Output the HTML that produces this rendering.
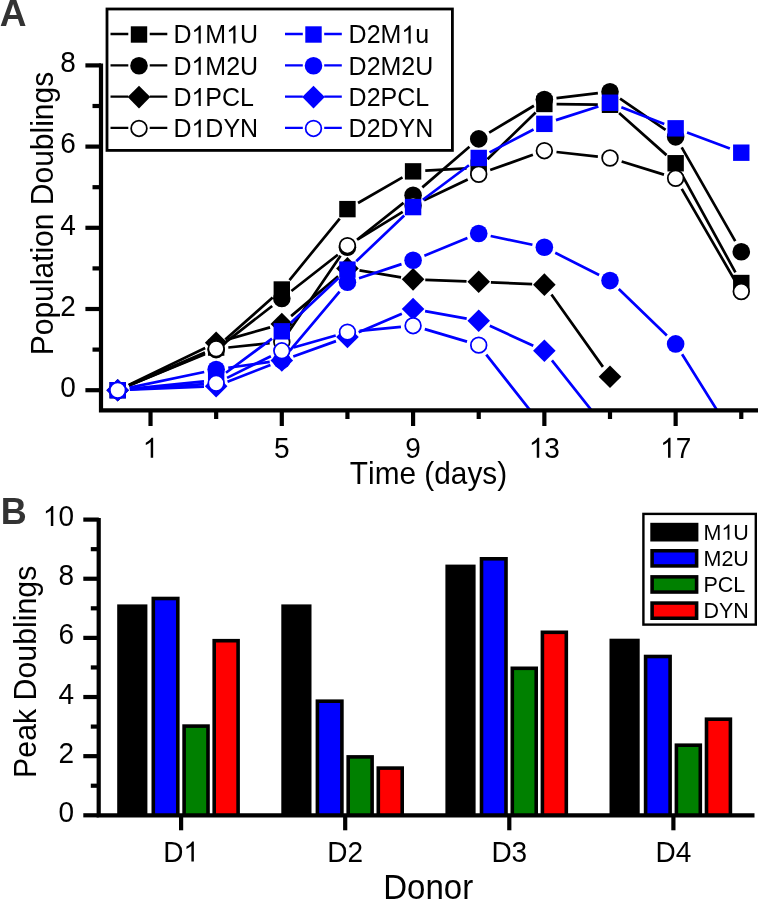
<!DOCTYPE html>
<html><head><meta charset="utf-8"><style>html,body{margin:0;padding:0;background:#fff;width:758px;height:900px;overflow:hidden}svg{will-change:transform}text{font-kerning:none}</style></head>
<body>
<svg width="758" height="900" viewBox="0 0 758 900" style="display:block">
<rect width="758" height="900" fill="#fff"/>
<defs><clipPath id="ca"><rect x="101" y="0" width="657" height="410.2"/></clipPath></defs>
<g clip-path="url(#ca)">
<path d="M128.90 385.35L204.96 352.42M225.30 339.49L272.66 297.59M289.52 280.06L339.72 218.57M358.02 203.04L402.50 177.45M425.26 170.69L466.54 168.39M487.47 159.21L535.61 112.47M556.56 104.12L597.80 104.63M619.11 112.90L666.53 155.13M681.50 173.94L735.42 272.32" stroke="#000" stroke-width="2.7" fill="none"/>
<rect x="109.50" y="382.00" width="16.40" height="16.40" fill="#000"/>
<rect x="207.96" y="339.37" width="16.40" height="16.40" fill="#000"/>
<rect x="273.60" y="281.31" width="16.40" height="16.40" fill="#000"/>
<rect x="339.24" y="200.92" width="16.40" height="16.40" fill="#000"/>
<rect x="404.88" y="163.17" width="16.40" height="16.40" fill="#000"/>
<rect x="470.52" y="159.51" width="16.40" height="16.40" fill="#000"/>
<rect x="536.16" y="95.77" width="16.40" height="16.40" fill="#000"/>
<rect x="601.80" y="96.58" width="16.40" height="16.40" fill="#000"/>
<rect x="667.44" y="155.05" width="16.40" height="16.40" fill="#000"/>
<rect x="733.08" y="274.82" width="16.40" height="16.40" fill="#000"/>
<path d="M128.98 385.55L204.88 354.25M225.78 342.10L272.18 305.94M291.42 290.94L337.82 254.79M357.01 239.72L403.51 202.89M422.33 187.37L469.47 146.84M489.18 132.61L533.90 105.78M556.48 98.08L597.88 93.21M620.06 98.70L665.58 129.95M681.69 147.45L735.23 241.16" stroke="#000" stroke-width="2.7" fill="none"/>
<circle cx="117.70" cy="390.20" r="8.8" fill="#000"/>
<circle cx="216.16" cy="349.60" r="8.8" fill="#000"/>
<circle cx="281.80" cy="298.44" r="8.8" fill="#000"/>
<circle cx="347.44" cy="247.29" r="8.8" fill="#000"/>
<circle cx="413.08" cy="195.32" r="8.8" fill="#000"/>
<circle cx="478.72" cy="138.89" r="8.8" fill="#000"/>
<circle cx="544.36" cy="99.50" r="8.8" fill="#000"/>
<circle cx="610.00" cy="91.79" r="8.8" fill="#000"/>
<circle cx="675.64" cy="136.86" r="8.8" fill="#000"/>
<circle cx="741.28" cy="251.75" r="8.8" fill="#000"/>
<path d="M128.69 384.90L205.17 348.00M227.89 339.36L270.07 327.36M291.11 316.13L338.13 276.29M359.47 270.41L401.05 277.35M425.27 279.81L466.53 281.35M490.91 282.33L532.17 284.11M551.44 294.58L602.92 366.86" stroke="#000" stroke-width="2.7" fill="none"/>
<path d="M117.70 378.90L129.00 390.20L117.70 401.50L106.40 390.20Z" fill="#000"/>
<path d="M216.16 331.40L227.46 342.70L216.16 354.00L204.86 342.70Z" fill="#000"/>
<path d="M281.80 312.72L293.10 324.02L281.80 335.32L270.50 324.02Z" fill="#000"/>
<path d="M347.44 257.10L358.74 268.40L347.44 279.70L336.14 268.40Z" fill="#000"/>
<path d="M413.08 268.06L424.38 279.36L413.08 290.66L401.78 279.36Z" fill="#000"/>
<path d="M478.72 270.50L490.02 281.80L478.72 293.10L467.42 281.80Z" fill="#000"/>
<path d="M544.36 273.34L555.66 284.64L544.36 295.94L533.06 284.64Z" fill="#000"/>
<path d="M610.00 365.50L621.30 376.80L610.00 388.10L598.70 376.80Z" fill="#000"/>
<path d="M128.95 385.47L204.91 353.52M228.29 347.51L269.67 343.16M288.68 331.81L340.56 255.74M357.84 239.29L402.68 211.84M424.09 200.22L467.71 179.45M490.20 170.09L532.88 154.78M556.49 152.01L597.87 156.62M621.66 161.57L663.98 174.66M681.76 188.82L735.16 280.99" stroke="#000" stroke-width="2.7" fill="none"/>
<circle cx="117.70" cy="390.20" r="7.85" fill="#fff" stroke="#000" stroke-width="1.75"/>
<circle cx="216.16" cy="348.79" r="7.85" fill="#fff" stroke="#000" stroke-width="1.75"/>
<circle cx="281.80" cy="341.89" r="7.85" fill="#fff" stroke="#000" stroke-width="1.75"/>
<circle cx="347.44" cy="245.66" r="7.85" fill="#fff" stroke="#000" stroke-width="1.75"/>
<circle cx="413.08" cy="205.47" r="7.85" fill="#fff" stroke="#000" stroke-width="1.75"/>
<circle cx="478.72" cy="174.21" r="7.85" fill="#fff" stroke="#000" stroke-width="1.75"/>
<circle cx="544.36" cy="150.66" r="7.85" fill="#fff" stroke="#000" stroke-width="1.75"/>
<circle cx="610.00" cy="157.97" r="7.85" fill="#fff" stroke="#000" stroke-width="1.75"/>
<circle cx="675.64" cy="178.27" r="7.85" fill="#fff" stroke="#000" stroke-width="1.75"/>
<circle cx="741.28" cy="291.54" r="7.85" fill="#fff" stroke="#000" stroke-width="1.75"/>
<path d="M129.84 388.95L204.02 381.30M225.96 372.78L272.00 338.60M290.69 322.97L338.55 277.97M356.27 261.20L404.25 215.51M422.85 199.78L468.95 165.28M489.55 152.34L533.53 129.49M555.97 120.13L598.39 106.49M621.37 107.18L664.27 123.90M687.08 132.57L729.84 148.45" stroke="#00f" stroke-width="2.7" fill="none"/>
<rect x="109.50" y="382.00" width="16.40" height="16.40" fill="#00f"/>
<rect x="207.96" y="371.85" width="16.40" height="16.40" fill="#00f"/>
<rect x="273.60" y="323.13" width="16.40" height="16.40" fill="#00f"/>
<rect x="339.24" y="261.42" width="16.40" height="16.40" fill="#00f"/>
<rect x="404.88" y="198.89" width="16.40" height="16.40" fill="#00f"/>
<rect x="470.52" y="149.77" width="16.40" height="16.40" fill="#00f"/>
<rect x="536.16" y="115.66" width="16.40" height="16.40" fill="#00f"/>
<rect x="601.80" y="94.55" width="16.40" height="16.40" fill="#00f"/>
<rect x="667.44" y="120.13" width="16.40" height="16.40" fill="#00f"/>
<rect x="733.08" y="144.49" width="16.40" height="16.40" fill="#00f"/>
<path d="M129.64 387.69L204.22 372.00M228.24 367.78L269.72 361.87M289.66 350.82L339.58 291.54M359.01 278.34L401.51 264.14M424.38 255.67L467.42 238.09M490.66 235.99L532.42 244.78M555.24 252.81L599.12 275.06M618.78 289.05L666.86 335.44M682.10 354.27L734.82 438.72" stroke="#00f" stroke-width="2.7" fill="none"/>
<circle cx="117.70" cy="390.20" r="8.8" fill="#00f"/>
<circle cx="216.16" cy="369.49" r="8.8" fill="#00f"/>
<circle cx="281.80" cy="360.16" r="8.8" fill="#00f"/>
<circle cx="347.44" cy="282.20" r="8.8" fill="#00f"/>
<circle cx="413.08" cy="260.28" r="8.8" fill="#00f"/>
<circle cx="478.72" cy="233.48" r="8.8" fill="#00f"/>
<circle cx="544.36" cy="247.29" r="8.8" fill="#00f"/>
<circle cx="610.00" cy="280.58" r="8.8" fill="#00f"/>
<circle cx="675.64" cy="343.92" r="8.8" fill="#00f"/>
<circle cx="741.28" cy="449.07" r="8.8" fill="#00f"/>
<path d="M129.89 389.70L203.97 386.64M227.53 381.71L270.43 364.99M293.28 356.44L335.96 341.13M358.66 332.23L401.86 313.79M425.09 311.15L466.71 318.62M489.81 325.85L533.27 345.74M551.94 360.38L602.42 424.08" stroke="#00f" stroke-width="2.7" fill="none"/>
<path d="M117.70 378.90L129.00 390.20L117.70 401.50L106.40 390.20Z" fill="#00f"/>
<path d="M216.16 374.84L227.46 386.14L216.16 397.44L204.86 386.14Z" fill="#00f"/>
<path d="M281.80 349.26L293.10 360.56L281.80 371.86L270.50 360.56Z" fill="#00f"/>
<path d="M347.44 325.71L358.74 337.01L347.44 348.31L336.14 337.01Z" fill="#00f"/>
<path d="M413.08 297.70L424.38 309.00L413.08 320.30L401.78 309.00Z" fill="#00f"/>
<path d="M478.72 309.47L490.02 320.77L478.72 332.07L467.42 320.77Z" fill="#00f"/>
<path d="M544.36 339.52L555.66 350.82L544.36 362.12L533.06 350.82Z" fill="#00f"/>
<path d="M610.00 422.34L621.30 433.64L610.00 444.94L598.70 433.64Z" fill="#00f"/>
<path d="M129.87 389.35L203.99 384.15M227.09 377.89L270.87 356.23M293.53 347.48L335.71 335.48M359.58 330.94L400.94 326.85M424.78 329.12L467.02 341.66M486.27 354.71L536.81 418.78" stroke="#00f" stroke-width="2.7" fill="none"/>
<circle cx="117.70" cy="390.20" r="7.85" fill="#fff" stroke="#00f" stroke-width="1.75"/>
<circle cx="216.16" cy="383.30" r="7.85" fill="#fff" stroke="#00f" stroke-width="1.75"/>
<circle cx="281.80" cy="350.82" r="7.85" fill="#fff" stroke="#00f" stroke-width="1.75"/>
<circle cx="347.44" cy="332.14" r="7.85" fill="#fff" stroke="#00f" stroke-width="1.75"/>
<circle cx="413.08" cy="325.65" r="7.85" fill="#fff" stroke="#00f" stroke-width="1.75"/>
<circle cx="478.72" cy="345.13" r="7.85" fill="#fff" stroke="#00f" stroke-width="1.75"/>
<circle cx="544.36" cy="428.36" r="7.85" fill="#fff" stroke="#00f" stroke-width="1.75"/>
</g>
<g stroke="#000" stroke-width="4.2" fill="none">
<path d="M101 63.6V412.3M98.9 410.3H758"/>
<path d="M85.4 390.20H101"/>
<path d="M92.5 349.60H101"/>
<path d="M85.4 309.00H101"/>
<path d="M92.5 268.40H101"/>
<path d="M85.4 227.80H101"/>
<path d="M92.5 187.20H101"/>
<path d="M85.4 146.60H101"/>
<path d="M92.5 106.00H101"/>
<path d="M85.4 65.40H101"/>
<path d="M150.52 410.2V426"/>
<path d="M216.16 410.2V419"/>
<path d="M281.80 410.2V426"/>
<path d="M347.44 410.2V419"/>
<path d="M413.08 410.2V426"/>
<path d="M478.72 410.2V419"/>
<path d="M544.36 410.2V426"/>
<path d="M610.00 410.2V419"/>
<path d="M675.64 410.2V426"/>
<path d="M741.28 410.2V419"/>
</g>
<g font-family="Liberation Sans" font-size="28" fill="#000">
<g transform="translate(75.80 396.90)"><text x="-15.57" y="0" font-size="28" transform="scale(1 1.04)">0</text></g>
<g transform="translate(75.80 315.70)"><text x="-15.57" y="0" font-size="28" transform="scale(1 1.04)">2</text></g>
<g transform="translate(75.80 234.50)"><text x="-15.57" y="0" font-size="28" transform="scale(1 1.04)">4</text></g>
<g transform="translate(75.80 153.30)"><text x="-15.57" y="0" font-size="28" transform="scale(1 1.04)">6</text></g>
<g transform="translate(75.80 72.10)"><text x="-15.57" y="0" font-size="28" transform="scale(1 1.04)">8</text></g>
<g transform="translate(150.52 457.80)"><text x="-7.79" y="0" font-size="28" transform="scale(1 1.04)"> </text><path d="M763 0L583 0L583 1147Q518 1085 412 1023Q306 961 223 930L223 1104Q372 1174 484 1276Q596 1378 642 1466L763 1466Z" transform="translate(-7.79 0) scale(0.01367 -0.01367)"/></g>
<g transform="translate(281.80 457.80)"><text x="-7.79" y="0" font-size="28" transform="scale(1 1.04)">5</text></g>
<g transform="translate(413.08 457.80)"><text x="-7.79" y="0" font-size="28" transform="scale(1 1.04)">9</text></g>
<g transform="translate(544.36 457.80)"><text x="-15.57" y="0" font-size="28" transform="scale(1 1.04)"> 3</text><path d="M763 0L583 0L583 1147Q518 1085 412 1023Q306 961 223 930L223 1104Q372 1174 484 1276Q596 1378 642 1466L763 1466Z" transform="translate(-15.57 0) scale(0.01367 -0.01367)"/></g>
<g transform="translate(675.64 457.80)"><text x="-15.57" y="0" font-size="28" transform="scale(1 1.04)"> 7</text><path d="M763 0L583 0L583 1147Q518 1085 412 1023Q306 961 223 930L223 1104Q372 1174 484 1276Q596 1378 642 1466L763 1466Z" transform="translate(-15.57 0) scale(0.01367 -0.01367)"/></g>
</g>
<g transform="translate(428.50 484.20)"><text x="-78.65" y="0" font-size="29.8" font-family="Liberation Sans" transform="scale(1 1.04)">Time (days)</text></g>
<g transform="translate(52.70 213.50) rotate(-90)"><text x="-141.77" y="0" font-size="30" font-family="Liberation Sans" transform="scale(1 1.04)">Population Doublings</text></g>
<rect x="107" y="9" width="345.4" height="141.4" fill="#fff" stroke="#000" stroke-width="2.8"/>
<path d="M110.50 34.0H128.30M149.70 34.0H167.30" stroke="#000" stroke-width="2.3" fill="none"/>
<rect x="130.80" y="26.30" width="16.40" height="16.40" fill="#000"/>
<g transform="translate(173.40 43.40)"><text x="0.00" y="0" font-size="25" font-family="Liberation Sans" transform="scale(1 1.04)">D M U</text><path d="M763 0L583 0L583 1147Q518 1085 412 1023Q306 961 223 930L223 1104Q372 1174 484 1276Q596 1378 642 1466L763 1466Z" transform="translate(18.05 0) scale(0.01221 -0.01221)"/><path d="M763 0L583 0L583 1147Q518 1085 412 1023Q306 961 223 930L223 1104Q372 1174 484 1276Q596 1378 642 1466L763 1466Z" transform="translate(52.78 0) scale(0.01221 -0.01221)"/></g>
<path d="M110.50 65.3H128.30M149.70 65.3H167.30" stroke="#000" stroke-width="2.3" fill="none"/>
<circle cx="139.00" cy="65.80" r="8.8" fill="#000"/>
<g transform="translate(173.40 74.70)"><text x="0.00" y="0" font-size="25" font-family="Liberation Sans" transform="scale(1 1.04)">D M2U</text><path d="M763 0L583 0L583 1147Q518 1085 412 1023Q306 961 223 930L223 1104Q372 1174 484 1276Q596 1378 642 1466L763 1466Z" transform="translate(18.05 0) scale(0.01221 -0.01221)"/></g>
<path d="M110.50 96.6H128.30M149.70 96.6H167.30" stroke="#000" stroke-width="2.3" fill="none"/>
<path d="M139.00 85.80L150.30 97.10L139.00 108.40L127.70 97.10Z" fill="#000"/>
<g transform="translate(173.40 106.00)"><text x="0.00" y="0" font-size="25" font-family="Liberation Sans" transform="scale(1 1.04)">D PCL</text><path d="M763 0L583 0L583 1147Q518 1085 412 1023Q306 961 223 930L223 1104Q372 1174 484 1276Q596 1378 642 1466L763 1466Z" transform="translate(18.05 0) scale(0.01221 -0.01221)"/></g>
<path d="M110.50 127.9H128.30M149.70 127.9H167.30" stroke="#000" stroke-width="2.3" fill="none"/>
<circle cx="139.00" cy="128.40" r="7.85" fill="#fff" stroke="#000" stroke-width="1.75"/>
<g transform="translate(173.40 137.30)"><text x="0.00" y="0" font-size="25" font-family="Liberation Sans" transform="scale(1 1.04)">D DYN</text><path d="M763 0L583 0L583 1147Q518 1085 412 1023Q306 961 223 930L223 1104Q372 1174 484 1276Q596 1378 642 1466L763 1466Z" transform="translate(18.05 0) scale(0.01221 -0.01221)"/></g>
<path d="M285.00 34.0H302.80M324.20 34.0H341.80" stroke="#00f" stroke-width="2.3" fill="none"/>
<rect x="305.30" y="26.30" width="16.40" height="16.40" fill="#00f"/>
<g transform="translate(348.60 43.40)"><text x="0.00" y="0" font-size="25" font-family="Liberation Sans" transform="scale(1 1.04)">D2M u</text><path d="M763 0L583 0L583 1147Q518 1085 412 1023Q306 961 223 930L223 1104Q372 1174 484 1276Q596 1378 642 1466L763 1466Z" transform="translate(52.78 0) scale(0.01221 -0.01221)"/></g>
<path d="M285.00 65.3H302.80M324.20 65.3H341.80" stroke="#00f" stroke-width="2.3" fill="none"/>
<circle cx="313.50" cy="65.80" r="8.8" fill="#00f"/>
<g transform="translate(348.60 74.70)"><text x="0.00" y="0" font-size="25" font-family="Liberation Sans" transform="scale(1 1.04)">D2M2U</text></g>
<path d="M285.00 96.6H302.80M324.20 96.6H341.80" stroke="#00f" stroke-width="2.3" fill="none"/>
<path d="M313.50 85.80L324.80 97.10L313.50 108.40L302.20 97.10Z" fill="#00f"/>
<g transform="translate(348.60 106.00)"><text x="0.00" y="0" font-size="25" font-family="Liberation Sans" transform="scale(1 1.04)">D2PCL</text></g>
<path d="M285.00 127.9H302.80M324.20 127.9H341.80" stroke="#00f" stroke-width="2.3" fill="none"/>
<circle cx="313.50" cy="128.40" r="7.85" fill="#fff" stroke="#00f" stroke-width="1.75"/>
<g transform="translate(348.60 137.30)"><text x="0.00" y="0" font-size="25" font-family="Liberation Sans" transform="scale(1 1.04)">D2DYN</text></g>
<text font-family="Liberation Sans" font-weight="bold" font-size="36" fill="#333" transform="translate(-0.2 26.2) scale(1.03 1.04)">A</text>
<rect x="117.20" y="604.40" width="30.20" height="210.90" fill="#000"/>
<rect x="151.50" y="596.70" width="28.10" height="218.60" fill="#000"/>
<rect x="155.10" y="600.30" width="20.90" height="215.00" fill="#00f"/>
<rect x="182.30" y="724.30" width="27.50" height="91.00" fill="#000"/>
<rect x="185.90" y="727.90" width="20.30" height="87.40" fill="#008000"/>
<rect x="212.40" y="638.90" width="27.50" height="176.40" fill="#000"/>
<rect x="216.00" y="642.50" width="20.30" height="172.80" fill="#f00"/>
<rect x="281.30" y="604.40" width="30.20" height="210.90" fill="#000"/>
<rect x="315.60" y="699.40" width="28.10" height="115.90" fill="#000"/>
<rect x="319.20" y="703.00" width="20.90" height="112.30" fill="#00f"/>
<rect x="346.40" y="755.10" width="27.50" height="60.20" fill="#000"/>
<rect x="350.00" y="758.70" width="20.30" height="56.60" fill="#008000"/>
<rect x="376.50" y="766.30" width="27.50" height="49.00" fill="#000"/>
<rect x="380.10" y="769.90" width="20.30" height="45.40" fill="#f00"/>
<rect x="445.40" y="564.60" width="30.20" height="250.70" fill="#000"/>
<rect x="479.70" y="557.00" width="28.10" height="258.30" fill="#000"/>
<rect x="483.30" y="560.60" width="20.90" height="254.70" fill="#00f"/>
<rect x="510.50" y="666.50" width="27.50" height="148.80" fill="#000"/>
<rect x="514.10" y="670.10" width="20.30" height="145.20" fill="#008000"/>
<rect x="540.60" y="630.50" width="27.50" height="184.80" fill="#000"/>
<rect x="544.20" y="634.10" width="20.30" height="181.20" fill="#f00"/>
<rect x="609.50" y="638.70" width="30.20" height="176.60" fill="#000"/>
<rect x="643.80" y="654.70" width="28.10" height="160.60" fill="#000"/>
<rect x="647.40" y="658.30" width="20.90" height="157.00" fill="#00f"/>
<rect x="674.60" y="743.40" width="27.50" height="71.90" fill="#000"/>
<rect x="678.20" y="747.00" width="20.30" height="68.30" fill="#008000"/>
<rect x="704.70" y="717.40" width="27.50" height="97.90" fill="#000"/>
<rect x="708.30" y="721.00" width="20.30" height="94.30" fill="#f00"/>
<g stroke="#000" stroke-width="4.2" fill="none">
<path d="M98.7 518.1V817.4M96.6 815.3H754.5"/>
<path d="M83.3 815.30H98.8"/>
<path d="M90.8 785.73H98.8"/>
<path d="M83.3 756.16H98.8"/>
<path d="M90.8 726.59H98.8"/>
<path d="M83.3 697.02H98.8"/>
<path d="M90.8 667.45H98.8"/>
<path d="M83.3 637.88H98.8"/>
<path d="M90.8 608.31H98.8"/>
<path d="M83.3 578.74H98.8"/>
<path d="M90.8 549.17H98.8"/>
<path d="M83.3 519.60H98.8"/>
<path d="M181.1 815.3V830.3"/>
<path d="M345.2 815.3V830.3"/>
<path d="M509.3 815.3V830.3"/>
<path d="M673.4 815.3V830.3"/>
</g>
<g font-family="Liberation Sans" font-size="28" fill="#000">
<g transform="translate(74.00 821.80)"><text x="-15.57" y="0" font-size="28" transform="scale(1 1.04)">0</text></g>
<g transform="translate(74.00 762.66)"><text x="-15.57" y="0" font-size="28" transform="scale(1 1.04)">2</text></g>
<g transform="translate(74.00 703.52)"><text x="-15.57" y="0" font-size="28" transform="scale(1 1.04)">4</text></g>
<g transform="translate(74.00 644.38)"><text x="-15.57" y="0" font-size="28" transform="scale(1 1.04)">6</text></g>
<g transform="translate(74.00 585.24)"><text x="-15.57" y="0" font-size="28" transform="scale(1 1.04)">8</text></g>
<g transform="translate(74.00 526.10)"><text x="-31.14" y="0" font-size="28" transform="scale(1 1.04)"> 0</text><path d="M763 0L583 0L583 1147Q518 1085 412 1023Q306 961 223 930L223 1104Q372 1174 484 1276Q596 1378 642 1466L763 1466Z" transform="translate(-31.14 0) scale(0.01367 -0.01367)"/></g>
<g transform="translate(181.10 861.60)"><text x="-17.90" y="0" font-size="28" transform="scale(1 1.04)">D </text><path d="M763 0L583 0L583 1147Q518 1085 412 1023Q306 961 223 930L223 1104Q372 1174 484 1276Q596 1378 642 1466L763 1466Z" transform="translate(2.32 0) scale(0.01367 -0.01367)"/></g>
<g transform="translate(345.20 861.60)"><text x="-17.90" y="0" font-size="28" transform="scale(1 1.04)">D2</text></g>
<g transform="translate(509.30 861.60)"><text x="-17.90" y="0" font-size="28" transform="scale(1 1.04)">D3</text></g>
<g transform="translate(673.40 861.60)"><text x="-17.90" y="0" font-size="28" transform="scale(1 1.04)">D4</text></g>
</g>
<g transform="translate(428.20 898.50)"><text x="-44.94" y="0" font-size="33" font-family="Liberation Sans" transform="scale(1 1.04)">Donor</text></g>
<g transform="translate(36.20 671.80) rotate(-90)"><text x="-106.12" y="0" font-size="30.3" font-family="Liberation Sans" transform="scale(1 1.04)">Peak Doublings</text></g>
<rect x="643.4" y="513.9" width="112.4" height="110.7" fill="#fff" stroke="#000" stroke-width="2.4"/>
<rect x="650.3" y="522.8" width="48.1" height="18.7" fill="#000"/>
<g transform="translate(703.50 539.80)"><text x="0.00" y="0" font-size="21.5" font-family="Liberation Sans" transform="scale(1 1.04)">M U</text><path d="M763 0L583 0L583 1147Q518 1085 412 1023Q306 961 223 930L223 1104Q372 1174 484 1276Q596 1378 642 1466L763 1466Z" transform="translate(17.91 0) scale(0.01050 -0.01050)"/></g>
<rect x="650.3" y="549.0" width="48.1" height="18.7" fill="#000"/>
<rect x="653.9" y="552.5" width="40.9" height="11.7" fill="#00f"/>
<g transform="translate(703.50 566.00)"><text x="0.00" y="0" font-size="21.5" font-family="Liberation Sans" transform="scale(1 1.04)">M2U</text></g>
<rect x="650.3" y="575.1" width="48.1" height="18.7" fill="#000"/>
<rect x="653.9" y="578.6" width="40.9" height="11.7" fill="#008000"/>
<g transform="translate(703.50 592.20)"><text x="0.00" y="0" font-size="21.5" font-family="Liberation Sans" transform="scale(1 1.04)">PCL</text></g>
<rect x="650.3" y="601.3" width="48.1" height="18.7" fill="#000"/>
<rect x="653.9" y="604.8" width="40.9" height="11.7" fill="#f00"/>
<g transform="translate(703.50 618.40)"><text x="0.00" y="0" font-size="21.5" font-family="Liberation Sans" transform="scale(1 1.04)">DYN</text></g>
<text font-family="Liberation Sans" font-weight="bold" font-size="36" fill="#333" transform="translate(0.8 524.4) scale(1.0 1.0)">B</text>
</svg>
</body></html>
